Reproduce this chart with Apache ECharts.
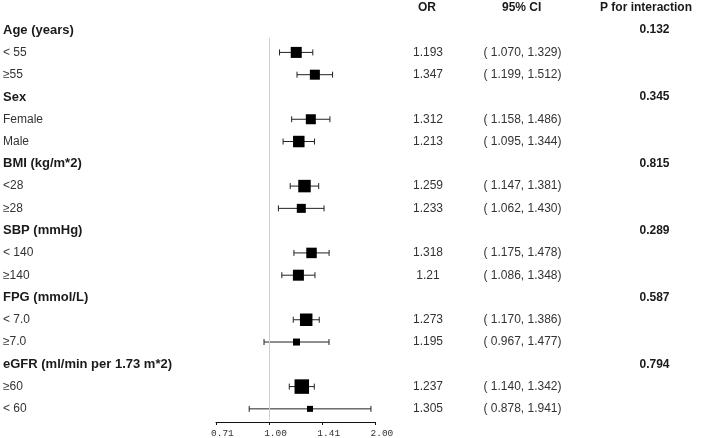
<!DOCTYPE html>
<html>
<head>
<meta charset="utf-8">
<script src="https://cdn.jsdelivr.net/npm/echarts@6/dist/echarts.min.js"></script>
<style>
html,body{margin:0;padding:0;background:#fff;}
#chart{width:709px;height:438px;}
</style>
</head>
<body>
<div id="chart"></div>
<script>
// ---- data ----
const groups = ["Age (years)", "Sex", "BMI (kg/m*2)", "SBP (mmHg)", "FPG (mmol/L)", "eGFR (ml/min per 1.73 m*2)"];
const pInteraction = ["0.132", "0.345", "0.815", "0.289", "0.587", "0.794"];
const subgroups = [["< 55", "≥55"], ["Female", "Male"], ["<28", "≥28"], ["< 140", "≥140"], ["< 7.0", "≥7.0"], ["≥60", "< 60"]];
const orValues = [1.193, 1.347, 1.312, 1.213, 1.259, 1.233, 1.318, 1.21, 1.273, 1.195, 1.237, 1.305];
const ciLower = [1.070, 1.199, 1.158, 1.095, 1.147, 1.062, 1.175, 1.086, 1.170, 0.967, 1.140, 0.878];
const ciUpper = [1.329, 1.512, 1.486, 1.344, 1.381, 1.430, 1.478, 1.348, 1.386, 1.477, 1.342, 1.941];
const weights = [11, 10, 10, 11.5, 12.5, 9, 10.5, 11, 12.5, 7, 14.5, 6];
const tickValues = [0.71, 1.00, 1.41, 2.00];
const columnHeaders = ["OR", "95% CI", "P for interaction"];

// ---- build rows ----
const rowLabels = [], rowIsHeader = [], orText = [], ciText = [], pText = [];
const scatterData = [], barData = [];
let k = 0;
groups.forEach((g, gi) => {
  rowLabels.push(g); rowIsHeader.push(true); orText.push(""); ciText.push(""); pText.push(pInteraction[gi]);
  subgroups[gi].forEach(s => {
    const row = rowLabels.length;
    rowLabels.push(s); rowIsHeader.push(false);
    orText.push(String(orValues[k]));
    ciText.push("( " + ciLower[k].toFixed(3) + ", " + ciUpper[k].toFixed(3) + ")");
    pText.push("");
    scatterData.push([Math.log2(orValues[k]), row, weights[k]]);
    barData.push([Math.log2(ciLower[k]), Math.log2(ciUpper[k]), row]);
    k++;
  });
});
const nRows = rowLabels.length;
// x axis works in log2 units; tick labels come from tickValues
const tickLog = tickValues.map(v => Math.round(Math.log2(v) * 2) / 2);

const chart = echarts.init(document.getElementById('chart'), null, {renderer: 'canvas'});

const hiddenCat = (pos, data, margin, align, formatter, rich) => ({
  type: 'category', position: pos, inverse: true, data: data,
  axisLine: {show: false}, axisTick: {show: false}, splitLine: {show: false},
  axisLabel: {margin: margin, align: align, formatter: formatter, rich: rich,
    fontFamily: 'Liberation Sans', fontSize: 12, color: '#333'}
});

const option = {
  animation: false,
  backgroundColor: '#fff',
  grid: {left: 216, top: 19, height: 401, width: 159.5},
  xAxis: {
    type: 'value', position: 'bottom', min: tickLog[0], max: tickLog[tickLog.length - 1], interval: 0.5, offset: 2,
    axisLine: {show: true, onZero: false, lineStyle: {color: '#111', width: 1}},
    axisTick: {show: true, length: 3, lineStyle: {color: '#111'}},
    splitLine: {show: false},
    axisLabel: {
      formatter: v => {
        const i = tickLog.findIndex(t => Math.abs(t - v) < 1e-9);
        return i >= 0 ? tickValues[i].toFixed(2) : '';
      },
      fontFamily: 'Liberation Mono', fontSize: 9.5, color: '#333', margin: 6,
      align: 'left', padding: [0, 0, 0, -5]
    }
  },
  yAxis: [
    {type: 'value', show: false, inverse: true, min: -0.5, max: nRows - 0.5},
    hiddenCat('left', rowLabels, 213, 'left', (v, i) => rowIsHeader[i] ? '{h|' + v + '}' : '{s|' + v + '}',
      {h: {fontWeight: 'bold', fontSize: 13, color: '#1a1a1a', fontFamily: 'Liberation Sans'},
       s: {fontSize: 12, color: '#333', fontFamily: 'Liberation Sans'}}),
    hiddenCat('right', orText, 52.5, 'center'),
    hiddenCat('right', ciText, 147, 'center'),
    hiddenCat('right', pText, 279, 'center', v => '{p|' + v + '}',
      {p: {fontWeight: 'bold', fontSize: 12, color: '#1a1a1a', fontFamily: 'Liberation Sans'}})
  ],
  graphic: [
    {type: 'text', left: 418, top: 2, style: {text: columnHeaders[0], font: 'bold 12px "Liberation Sans"', fill: '#1a1a1a'}},
    {type: 'text', left: 502, top: 2, style: {text: columnHeaders[1], font: 'bold 12px "Liberation Sans"', fill: '#1a1a1a'}},
    {type: 'text', left: 600, top: 2, style: {text: columnHeaders[2], font: 'bold 12px "Liberation Sans"', fill: '#1a1a1a'}}
  ],
  series: [
    {
      type: 'custom', xAxisIndex: 0, yAxisIndex: 0, data: barData, silent: true,
      renderItem: (params, api) => {
        const a = api.coord([api.value(0), api.value(2)]);
        const b = api.coord([api.value(1), api.value(2)]);
        const st = {stroke: '#222', lineWidth: 1};
        return {type: 'group', children: [
          {type: 'line', shape: {x1: a[0], y1: a[1], x2: b[0], y2: b[1]}, style: st},
          {type: 'line', shape: {x1: a[0], y1: a[1] - 3, x2: a[0], y2: a[1] + 3}, style: st},
          {type: 'line', shape: {x1: b[0], y1: b[1] - 3, x2: b[0], y2: b[1] + 3}, style: st}
        ]};
      }
    },
    {
      type: 'scatter', xAxisIndex: 0, yAxisIndex: 0, data: scatterData, symbol: 'rect',
      symbolSize: v => v[2], itemStyle: {color: '#000', opacity: 1}, silent: true, z: 3,
      markLine: {
        silent: true, symbol: ['none', 'none'], label: {show: false},
        lineStyle: {color: '#cfcfcf', type: 'solid', width: 1},
        data: [[{coord: [0, 0.35]}, {coord: [0, nRows - 0.5]}]]
      }
    }
  ]
};
chart.setOption(option);
</script>
</body>
</html>
